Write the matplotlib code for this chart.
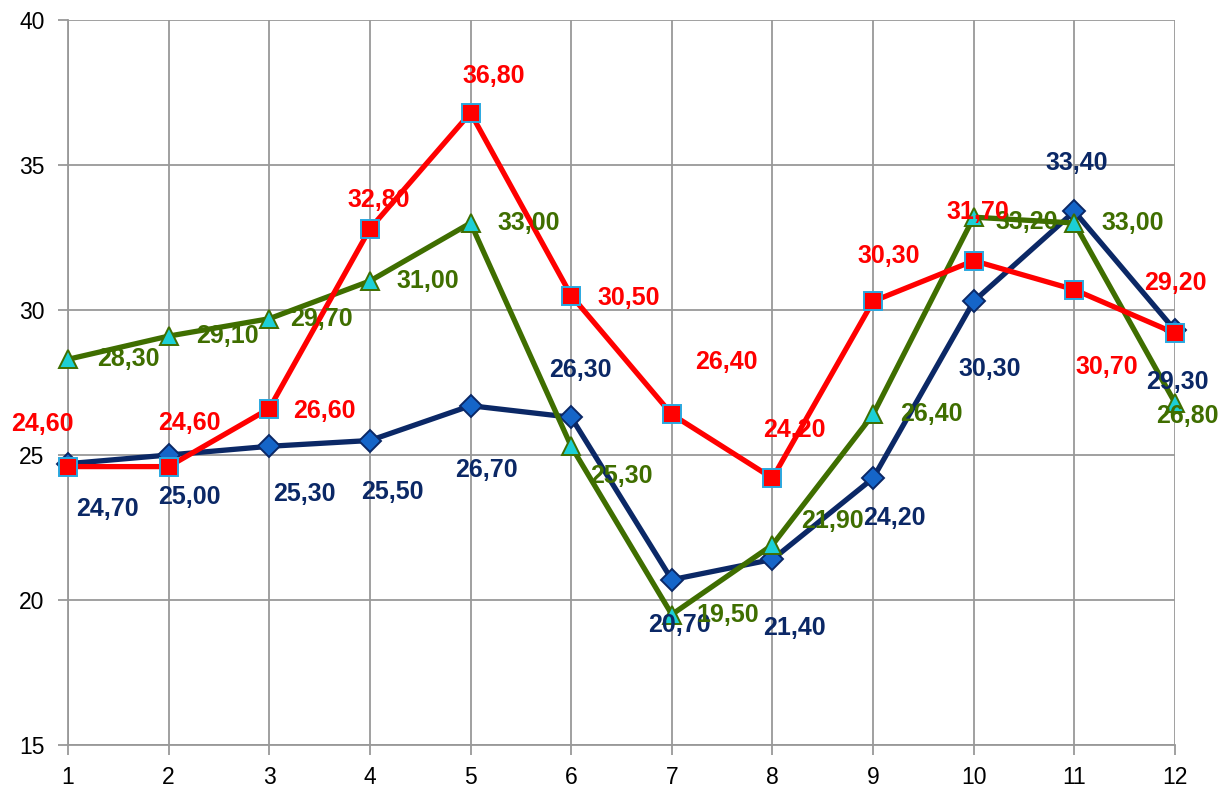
import matplotlib
matplotlib.use("Agg")
import matplotlib.pyplot as plt

plt.rcParams['font.family'] = ['Liberation Sans', 'DejaVu Sans']

months = [1, 2, 3, 4, 5, 6, 7, 8, 9, 10, 11, 12]
blue_vals = [24.7, 25.0, 25.3, 25.5, 26.7, 26.3, 20.7, 21.4, 24.2, 30.3, 33.4, 29.3]
red_vals = [24.6, 24.6, 26.6, 32.8, 36.8, 30.5, 26.4, 24.2, 30.3, 31.7, 30.7, 29.2]
green_vals = [28.3, 29.1, 29.7, 31.0, 33.0, 25.3, 19.5, 21.9, 26.4, 33.2, 33.0, 26.8]

# label offsets in pixels (dx right, dy down) for each point
blue_off = [(39, 45), (21, 42), (35, 48), (22, 51), (16, 64), (9, -47),
            (8, 45), (22, 69), (21, 40), (16, 68), (2, -48), (2, 52)]
red_off = [(-26, -43), (21, -44), (55, 2), (9, -29), (23, -37), (58, 2),
           (55, -52), (22, -48), (16, -45), (4, -49), (32, 77), (0, -50)]
green_off = [(60, 0), (59, 0), (52, 0), (58, 0), (58, 0), (50, 30),
             (56, 0), (60, -24), (58, 0), (53, 5), (58, 0), (12, 13)]

fig = plt.figure(figsize=(12.21, 7.91), dpi=100)
ax = fig.add_axes([68 / 1221, 46 / 791, (1175 - 68) / 1221, (745 - 20) / 791])

grid_c = '#999999'
ax.set_xlim(1, 12)
ax.set_ylim(15, 40)
ax.set_xticks(months)
ax.set_yticks([15, 20, 25, 30, 35, 40])
ax.grid(True, color=grid_c, linewidth=1.3)
ax.set_axisbelow(True)
for s in ['top', 'right']:
    ax.spines[s].set_visible(False)
for s in ['left', 'bottom']:
    ax.spines[s].set_color(grid_c)
    ax.spines[s].set_linewidth(1.3)
ax.tick_params(axis='both', colors=grid_c, length=7, width=1.3, labelsize=16.5,
               labelcolor='black')
ax.tick_params(axis='x', pad=8)
ax.tick_params(axis='y', pad=10)

series = [
    (blue_vals, blue_off, '#0B2866', 'D', '#1565C8', '#0B2866', 11, '#0B2866'),
    (green_vals, green_off, '#3F6E00', '^', '#1CCFD6', '#3F6E00', 13, '#3F6E00'),
    (red_vals, red_off, '#FF0000', 's', '#FF0000', '#2AA8E0', 13, '#FF0000'),
]

for vals, offs, lc, mk, mfc, mec, ms, tc in series:
    ax.plot(months, vals, color=lc, linewidth=3.8, marker=mk, markersize=ms,
            markerfacecolor=mfc, markeredgecolor=mec, markeredgewidth=1.4,
            zorder=3, clip_on=False)
    for x, v, (dx, dy) in zip(months, vals, offs):
        ax.annotate(f"{v:.2f}".replace('.', ','), (x, v),
                    xytext=(dx * 0.72, -dy * 0.72), textcoords='offset points',
                    ha='center', va='center', fontsize=18, fontweight='bold',
                    color=tc, zorder=4, annotation_clip=False)

fig.savefig('out.png', dpi=100)
